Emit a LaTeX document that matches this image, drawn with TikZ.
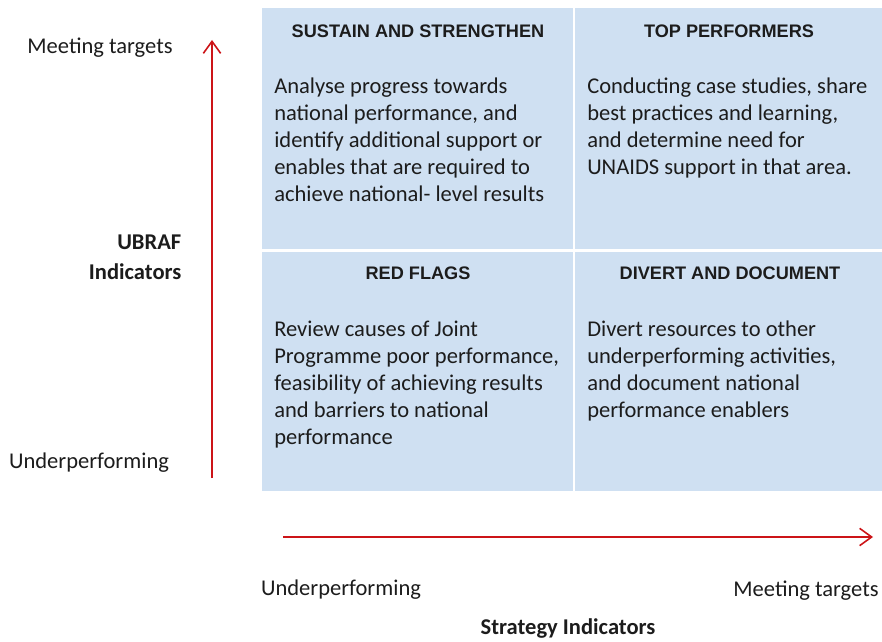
\documentclass[tikz,border=0pt]{standalone}
\usepackage{fontspec}
\setmainfont{Carlito}
\newfontfamily\headfont{Liberation Sans}
\usetikzlibrary{arrows.meta}
\definecolor{quadblue}{RGB}{207,224,242}
\definecolor{axisred}{RGB}{204,20,24}
\definecolor{txtgray}{RGB}{28,28,28}

\begin{document}
\begin{tikzpicture}[x=0.75pt,y=-0.75pt,text=txtgray,
  quad/.style={fill=quadblue},
  head/.style={font=\headfont\bfseries\fontsize{13.6}{16}\selectfont},
  body/.style={anchor=north west,inner sep=0pt,align=left,font=\fontsize{16.9}{20.25}\selectfont},
  lbl/.style={font=\fontsize{16.9}{20}\selectfont},
  axis/.style={draw=axisred,line width=1.2pt,-{Straight Barb[length=9pt,width=13pt]}}]
  \useasboundingbox (0,0) rectangle (882,642);

  % the four quadrants
  \fill[quad] (262,8) rectangle (573,249);
  \fill[quad] (575,8) rectangle (882,249);
  \fill[quad] (262,252) rectangle (573,491);
  \fill[quad] (575,252) rectangle (882,491);

  \node[head] (sustain) at (418,31) {SUSTAIN AND STRENGTHEN};
  \node[head] (top) at (729,31) {TOP PERFORMERS};
  \node[head] (red) at (418,273) {RED FLAGS};
  \node[head] (divert) at (730,273) {DIVERT AND DOCUMENT};

  \node[body] (sustaintxt) at (274,78) {Analyse progress towards\\ national performance, and\\ identify additional support or\\ enables that are required to\\ achieve national- level results};
  \node[body] (toptxt) at (587,78) {Conducting case studies, share\\ best practices and learning,\\ and determine need for\\ UNAIDS support in that area.};
  \node[body] (redtxt) at (274,321) {Review causes of Joint\\ Programme poor performance,\\ feasibility of achieving results\\ and barriers to national\\ performance};
  \node[body] (diverttxt) at (587,321) {Divert resources to other\\ underperforming activities,\\ and document national\\ performance enablers};

  % axes
  \coordinate (ylow) at (212,478);
  \coordinate (yhigh) at (212,40);
  \coordinate (xlow) at (283,537);
  \coordinate (xhigh) at (873,537);
  \draw[axis] (ylow) -- (yhigh);
  \draw[axis] (xlow) -- (xhigh);

  \node[lbl] (ymeet) at (100,48) {Meeting targets};
  \node[lbl] (yunder) at (89,463) {Underperforming};
  \node[lbl,font=\bfseries\fontsize{16.9}{22.5}\selectfont,align=right,anchor=east] (ubraf) at (186,257) {UBRAF\\ Indicators};
  \node[lbl] (xunder) at (341,590) {Underperforming};
  \node[lbl] (xmeet) at (806,591) {Meeting targets};
  \node[lbl,font=\bfseries\fontsize{16.9}{20}\selectfont] (strategy) at (568,628) {Strategy Indicators};
\end{tikzpicture}
\end{document}
